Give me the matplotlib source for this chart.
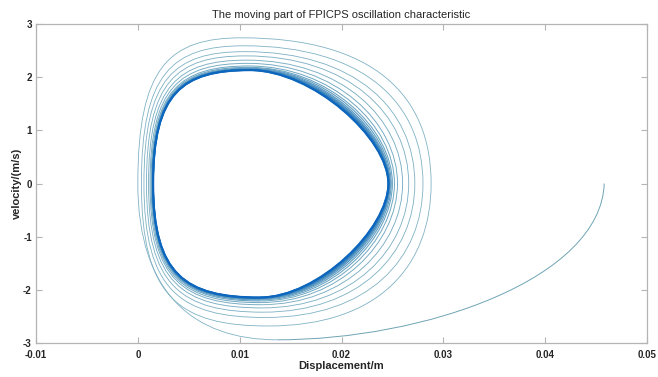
import numpy as np
import matplotlib
matplotlib.use("Agg")
import matplotlib.pyplot as plt
from matplotlib.path import Path
from matplotlib.patches import PathPatch
from matplotlib.colors import to_rgb

plt.rcParams['font.family'] = ['Liberation Sans', 'DejaVu Sans']
plt.rcParams['axes.unicode_minus'] = False

# --- traiettoria: estremi di ogni giro (x in m, v in m/s) ---
x_start = 0.0458          # punto iniziale, v = 0
left_x = [0.0000, 0.00035, 0.0006, 0.00085, 0.00105, 0.0012, 0.0013, 0.00137,
          0.00141, 0.00144, 0.00146, 0.00147, 0.00148, 0.00149, 0.0015, 0.0015]
top_x = [0.0102, 0.0104, 0.0105, 0.0106, 0.0107, 0.0108, 0.0109, 0.0109,
         0.0110, 0.0110, 0.0110, 0.0110, 0.0110, 0.0110, 0.0110, 0.0110]
top_v = [2.74, 2.59, 2.48, 2.40, 2.32, 2.26, 2.21, 2.185,
         2.168, 2.157, 2.149, 2.143, 2.139, 2.136, 2.134, 2.132]
right_x = [0.0288, 0.0280, 0.0272, 0.0266, 0.0260, 0.0255, 0.0252, 0.0250,
           0.02488, 0.02478, 0.02472, 0.02468, 0.02465, 0.02463, 0.02461, 0.0246]
bottom_x = [0.0137, 0.0128, 0.0125, 0.0123, 0.0122, 0.0121, 0.0120, 0.0120, 0.0120,
            0.0120, 0.0120, 0.0120, 0.0120, 0.0120, 0.0120, 0.0120, 0.0120]
bottom_v = [-2.94, -2.68, -2.52, -2.42, -2.34, -2.28, -2.24, -2.21, -2.19,
            -2.175, -2.165, -2.158, -2.153, -2.149, -2.146, -2.144, -2.143]

x_ticks = [-0.01, 0, 0.01, 0.02, 0.03, 0.04, 0.05]
x_ticklabels = ['-0.01', '0', '0.01', '0.02', '0.03', '0.04', '0.05']
y_ticks = [-3, -2, -1, 0, 1, 2, 3]

# forma dei quarti di giro (fattori delle curve di Bezier)
K_CORNER_V, K_CORNER_X = 0.8, 0.7   # lato sinistro (angolo "quadrato")


def bez_left_top(xl, xt, vt):
    return [(xl, K_CORNER_V * vt), (xt - K_CORNER_X * (xt - xl), vt), (xt, vt)]


def bez_top_right(xt, vt, xr, kx, kv):
    return [(xt + kx * (xr - xt), vt), (xr, kv * vt), (xr, 0.0)]


def bez_right_bottom(xr, xb, vb, kx, kv):
    return [(xr, kv * vb), (xb + kx * (xr - xb), vb), (xb, vb)]


def bez_bottom_left(xb, vb, xl, kx=K_CORNER_X, kv=K_CORNER_V):
    return [(xb - kx * (xb - xl), vb), (xl, kv * vb), (xl, 0.0)]


fig = plt.figure(figsize=(6.58, 3.77), dpi=100)
ax = fig.add_axes([36/658, 1 - 343/377, 611/658, 319/377])

c_out = np.array(to_rgb('#80b2c4'))
c_in = np.array(to_rgb('#0d66bd'))
n = len(left_x)

# tratto iniziale: dal punto di partenza al primo minimo
verts = [(x_start, 0.0),
         (x_start - 0.01 * (x_start - bottom_x[0]), 0.61 * bottom_v[0]),
         (bottom_x[0] + 0.45 * (x_start - bottom_x[0]), bottom_v[0]),
         (bottom_x[0], bottom_v[0])]
codes = [Path.MOVETO] + [Path.CURVE4] * 3
ax.add_patch(PathPatch(Path(verts, codes), fill=False, edgecolor='#6fa4b4', lw=0.7))

for i in range(n):
    f = i / (n - 1)
    fc = f ** 2.2
    col = (1 - fc) * c_out + fc * c_in
    lw = 0.6 + 0.9 * fc
    # giri esterni piu' arrotondati sul lato destro
    g = (1 - f) ** 1.5
    kx_r, kv_r = 0.45 + 0.25 * g, 0.4 + 0.2 * g
    kx_r2, kv_r2 = 0.45 + 0.25 * (1 - (i + 1) / n) ** 1.5, 0.4 + 0.2 * (1 - (i + 1) / n) ** 1.5
    kx, kv = (0.6, 0.7) if i == 0 else (K_CORNER_X, K_CORNER_V)
    verts = [(bottom_x[i], bottom_v[i])]
    verts += bez_bottom_left(bottom_x[i], bottom_v[i], left_x[i], kx, kv)
    verts += bez_left_top(left_x[i], top_x[i], top_v[i])
    verts += bez_top_right(top_x[i], top_v[i], right_x[i], kx_r, kv_r)
    verts += bez_right_bottom(right_x[i], bottom_x[i + 1], bottom_v[i + 1], kx_r2, kv_r2)
    codes = [Path.MOVETO] + [Path.CURVE4] * 12
    ax.add_patch(PathPatch(Path(verts, codes), fill=False, edgecolor=col, lw=lw))

ax.set_xlim(-0.01, 0.05)
ax.set_ylim(-3, 3)
ax.set_xticks(x_ticks)
ax.set_xticklabels(x_ticklabels)
ax.set_yticks(y_ticks)

for s in ax.spines.values():
    s.set_color('#b4b4b4')
    s.set_linewidth(0.9)
ax.tick_params(direction='in', length=4, width=0.8, color='#b4b4b4',
               top=True, right=True, labelsize=7, labelcolor='#262626')
ax.tick_params(axis='x', pad=5)
ax.tick_params(axis='y', pad=3)
for lab in ax.get_xticklabels() + ax.get_yticklabels():
    lab.set_fontweight('bold')

ax.set_title('The moving part of FPICPS oscillation characteristic',
             fontsize=8, color='#262626', pad=4)
ax.set_xlabel('Displacement/m', fontsize=8, fontweight='bold', color='#262626', labelpad=1)
ax.set_ylabel('velocity/(m/s)', fontsize=8, fontweight='bold', color='#262626', labelpad=1)

fig.savefig('out.png', dpi=100, facecolor='white')
